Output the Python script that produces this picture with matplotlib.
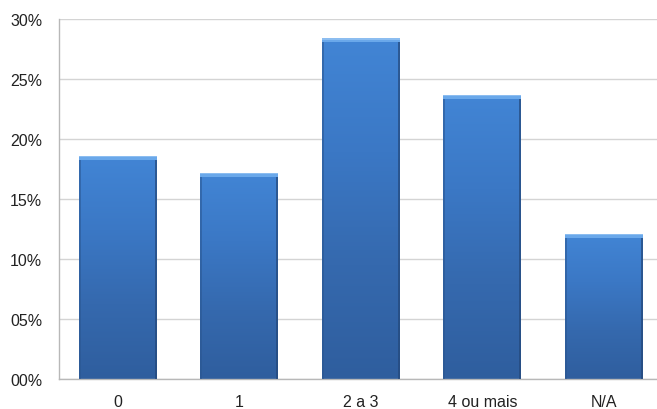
import numpy as np
import matplotlib
matplotlib.use("Agg")
import matplotlib.pyplot as plt
from matplotlib.colors import LinearSegmentedColormap
from matplotlib.patches import Rectangle

categories = ["0", "1", "2 a 3", "4 ou mais", "N/A"]
values = [18.6, 17.2, 28.4, 23.7, 12.1]
yticks = [0, 5, 10, 15, 20, 25, 30]
ytick_labels = ["00%", "05%", "10%", "15%", "20%", "25%", "30%"]

plt.rcParams["font.family"] = ["Liberation Sans", "DejaVu Sans"]

fig = plt.figure(figsize=(6.57, 4.10), dpi=100)
ax = fig.add_axes([59 / 657, 1 - 380 / 410, 1 - 59 / 657, 360 / 410])

x = np.arange(len(categories))
bar_w = 0.64
bars = ax.bar(x, values, width=bar_w, color="none", edgecolor="none", zorder=2)

step = 121.5
x_left = -0.5 + 2 / step
ax.set_xlim(x_left, x_left + (657 - 59) / step)
ax.set_ylim(0, 30)

# vertical gradient fill for each bar
cmap = LinearSegmentedColormap.from_list(
    "bar", ["#2f5e9e", "#3569ae", "#3b78c5", "#4285d5"])
grad = np.linspace(0, 1, 256).reshape(-1, 1)
for b in bars:
    x0, w, h = b.get_x(), b.get_width(), b.get_height()
    im = ax.imshow(grad, extent=[x0, x0 + w, 0, h], origin="lower",
                   cmap=cmap, aspect="auto", zorder=2)
    im.set_clip_path(b)
    # darker side edges
    ax.add_patch(Rectangle((x0, 0), w * 0.025, h, color="#2a5690",
                           alpha=0.55, lw=0, zorder=3))
    ax.add_patch(Rectangle((x0 + w * 0.975, 0), w * 0.025, h,
                           color="#24487a", alpha=0.7, lw=0, zorder=3))
    # light bevel on top
    ax.add_patch(Rectangle((x0, h - 0.33), w, 0.33, color="#6aa8ea",
                           lw=0, zorder=4))
    ax.add_patch(Rectangle((x0, h - 0.12), w, 0.12, color="#8cbdf0",
                           lw=0, zorder=4))

ax.set_yticks(yticks)
ax.set_yticklabels(ytick_labels)
ax.set_xticks(x)
ax.set_xticklabels(categories)
ax.yaxis.grid(True, color="#d4d4d4", lw=1)
ax.set_axisbelow(True)
ax.tick_params(axis="both", length=0, labelsize=11.5, colors="#222222")
ax.tick_params(axis="y", pad=12)
ax.tick_params(axis="x", pad=11)

for side in ["top", "right"]:
    ax.spines[side].set_visible(False)
for side in ["left", "bottom"]:
    ax.spines[side].set_color("#b8b8b8")
    ax.spines[side].set_linewidth(1)

fig.savefig("out.png", dpi=100)
